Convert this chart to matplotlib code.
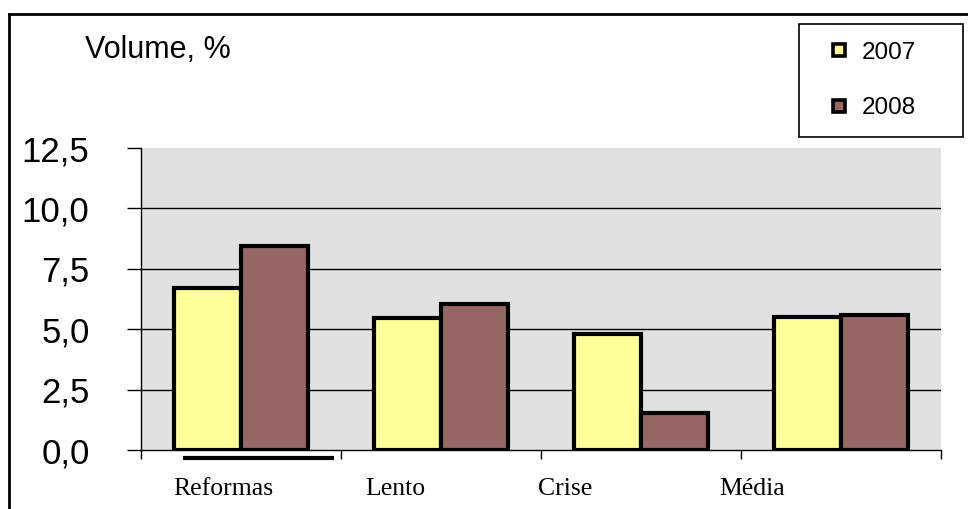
import matplotlib
matplotlib.use("Agg")
import matplotlib.pyplot as plt
from matplotlib.lines import Line2D
import numpy as np

# Data
categories = ["Reformas", "Lento", "Crise", "Média"]
vol_2007 = [6.7, 5.45, 4.8, 5.5]
vol_2008 = [8.45, 6.05, 1.55, 5.6]
series_names = ["2007", "2008"]
y_ticks = [0.0, 2.5, 5.0, 7.5, 10.0, 12.5]

# Category labels sit a little to the left of each group (offset in category units)
label_offsets = [-0.34, -0.38, -0.515, -0.61]

c07 = "#ffff99"
c08 = "#996666"
bg = "#e1e1e1"

W, H = 968, 509
fig = plt.figure(figsize=(W / 100, H / 100), dpi=100)
fig.patch.set_facecolor("white")

ax = fig.add_axes([141 / W, (H - 450) / H, 800 / W, 302 / H])
ax.set_facecolor(bg)

x = np.arange(len(categories))
w = 0.334
ax.bar(x - w / 2, vol_2007, w, color=c07, edgecolor="black", linewidth=3, zorder=3)
ax.bar(x + w / 2, vol_2008, w, color=c08, edgecolor="black", linewidth=3, zorder=3)

ax.set_xlim(-0.5, len(categories) - 0.5)
ax.set_ylim(0, 12.5)

# y axis: comma decimals, long outward ticks
ax.set_yticks(y_ticks)
ax.set_yticklabels([f"{v:.1f}".replace(".", ",") for v in y_ticks],
                   fontfamily="Liberation Sans", fontsize=25)
ax.tick_params(axis="y", direction="out", length=10, width=1, pad=27, colors="black")

# x axis: ticks at the category boundaries, no tick labels
ax.set_xticks(np.arange(len(categories) + 1) - 0.5)
ax.set_xticklabels([])
ax.tick_params(axis="x", direction="out", length=6.5, width=1)

ax.yaxis.grid(True, color="black", linewidth=1, zorder=1)
ax.set_axisbelow(True)
gl = ax.yaxis.get_gridlines()
gl[0].set_visible(False)
gl[-1].set_visible(False)

for s in ["top", "right"]:
    ax.spines[s].set_visible(False)
for s in ["left", "bottom"]:
    ax.spines[s].set_linewidth(1)
    ax.spines[s].set_color("black")
ax.spines["bottom"].set_zorder(4)

# category names underneath
for i, (name, off) in enumerate(zip(categories, label_offsets)):
    ax.text(i + off, -0.149, name, transform=ax.get_xaxis_transform(),
            ha="left", va="baseline", fontfamily="Liberation Serif", fontsize=18.5)

# short black bar under the first group
ax.plot([-0.29, 0.465], [-0.0255, -0.0255], transform=ax.get_xaxis_transform(),
        color="black", linewidth=3, solid_capstyle="butt", clip_on=False)

fig.text(85 / W, 1 - 58 / H, "Volume, %", fontfamily="Liberation Sans",
         fontsize=22, ha="left", va="baseline")

# legend
handles = [Line2D([], [], linestyle="none", marker="s", markersize=8.5,
                  markerfacecolor=c, markeredgecolor="black", markeredgewidth=2.6)
           for c in (c07, c08)]
leg = ax.legend(handles, series_names, loc="upper left",
                bbox_to_anchor=(799 / W, 1 - 136 / H, 164 / W, 112 / H),
                bbox_transform=fig.transFigure, mode="expand",
                prop={"family": "Liberation Sans", "size": 17.5},
                frameon=True, fancybox=False, shadow=False, framealpha=1,
                edgecolor="black", borderpad=0.72, handlelength=1.85,
                handletextpad=0.0, labelspacing=1.38, borderaxespad=0)
leg.get_frame().set_linewidth(1.2)

# outer frame (left and top edges visible)
fig.add_artist(Line2D([9 / W, 9 / W], [0, 1 - 14 / H], color="black", linewidth=2,
                      transform=fig.transFigure))
fig.add_artist(Line2D([9 / W, 1], [1 - 14 / H, 1 - 14 / H], color="black", linewidth=2,
                      transform=fig.transFigure))

fig.savefig("out.png", dpi=100, facecolor="white")
